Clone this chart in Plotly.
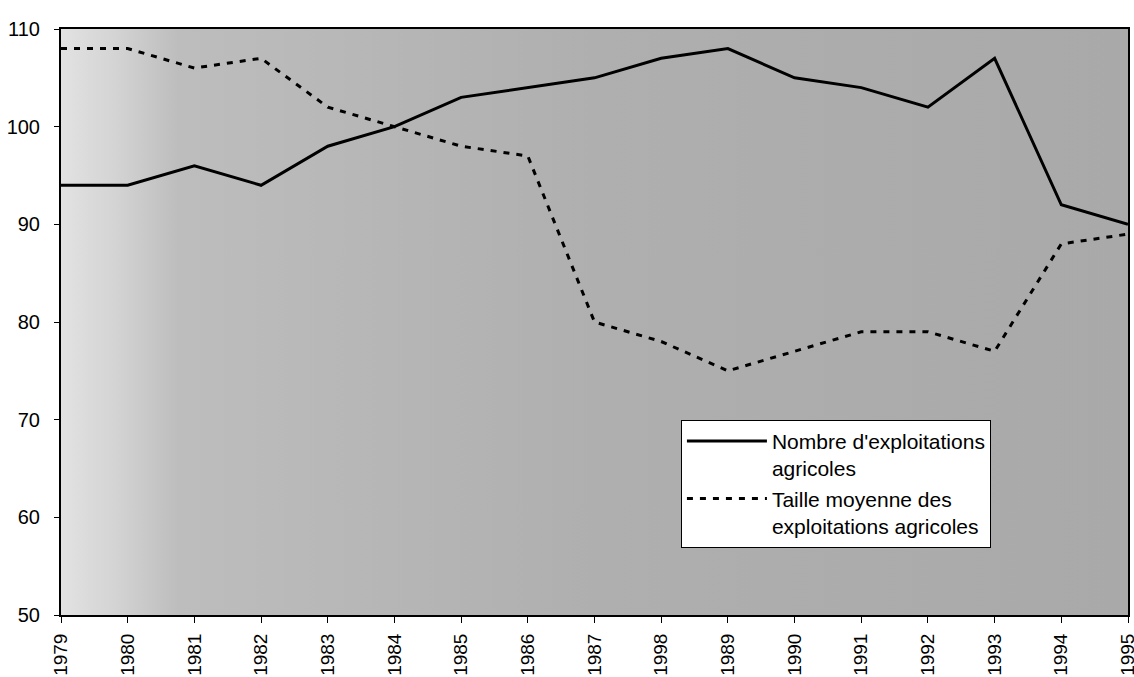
import plotly.graph_objects as go

years = list(range(1979, 1996))
tick_labels = ["1979", "1980", "1981", "1982", "1983", "1984", "1985", "1986", "1987",
               "1998", "1989", "1990", "1991", "1992", "1993", "1994", "1995"]
nombre = [94, 94, 96, 94, 98, 100, 103, 104, 105, 107, 108, 105, 104, 102, 107, 92, 90]
taille = [108, 108, 106, 107, 102, 100, 98, 97, 80, 78, 75, 77, 79, 79, 77, 88, 89]
name_nombre = "Nombre d'exploitations<br>agricoles"
name_taille = "Taille moyenne des<br>exploitations agricoles"

fig = go.Figure()

# background shading (light on the left, darker to the right)
fig.add_trace(go.Scatter(
    x=[years[0], years[-1], years[-1], years[0], years[0]],
    y=[50, 50, 110, 110, 50],
    fill="toself", mode="none", showlegend=False, hoverinfo="skip",
    fillgradient=dict(type="horizontal",
                      colorscale=[[0, "#e2e2e2"], [0.05, "#d4d4d4"], [0.11, "#bdbdbd"],
                                  [0.5, "#afafaf"], [1, "#a9a9a9"]]),
))

fig.add_trace(go.Scatter(
    x=years, y=nombre, mode="lines", name=name_nombre,
    line=dict(color="black", width=3),
))
fig.add_trace(go.Scatter(
    x=years, y=taille, mode="lines", name=name_taille,
    line=dict(color="black", width=3, dash="6px,7px"),
))

fig.update_layout(
    width=1134, height=677,
    margin=dict(l=61, r=6, t=29, b=62),
    paper_bgcolor="white",
    plot_bgcolor="#b0b0b0",
    font=dict(family="Liberation Sans, Arial, sans-serif", color="black", size=19),
    legend=dict(
        x=0.581, y=0.333, xanchor="left", yanchor="top",
        bgcolor="white", bordercolor="black", borderwidth=1,
        font=dict(size=21), tracegroupgap=0, itemwidth=80, valign="top",
    ),
)
fig.update_xaxes(
    range=[1979, 1995], tickvals=years, ticktext=tick_labels, tickangle=-90,
    showgrid=False, zeroline=False, showline=True, linecolor="black", linewidth=2,
    mirror=True, ticks="outside", ticklen=6, tickcolor="black",
    tickfont=dict(size=19), automargin=False, ticklabeloverflow="allow",
    ticklabelstandoff=3,
)
fig.update_yaxes(
    range=[50, 110], tickvals=[50, 60, 70, 80, 90, 100, 110],
    showgrid=False, zeroline=False, showline=True, linecolor="black", linewidth=2,
    mirror=True, ticks="outside", ticklen=5, tickcolor="black",
    tickfont=dict(size=20), automargin=False, ticklabelstandoff=10,
)

fig.write_html(
    "out.html",
    config={"displayModeBar": False},
    post_script="document.body.style.margin='0';document.body.style.overflow='hidden';",
)
